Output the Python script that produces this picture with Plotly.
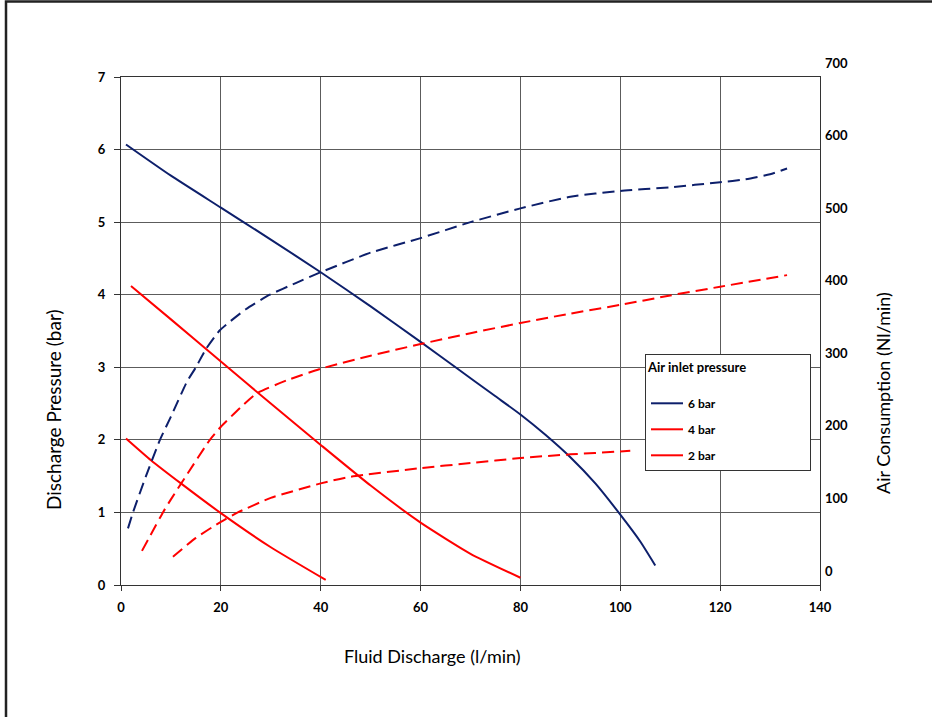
import plotly.graph_objects as go

# ---- data: discharge pressure (bar) vs fluid discharge (l/min) ----
p6_x = [1, 10, 20, 30, 40, 50, 60, 67, 75, 80, 85, 90, 95, 100, 104, 107]
p6_y = [6.07, 5.64, 5.2, 4.76, 4.31, 3.84, 3.35, 3.0, 2.6, 2.35, 2.07, 1.76, 1.4, 0.97, 0.6, 0.27]
p4_x = [2, 10, 20, 30, 40, 50, 60, 70, 80]
p4_y = [4.12, 3.66, 3.08, 2.5, 1.93, 1.37, 0.86, 0.43, 0.1]
p2_x = [1, 6, 12, 20, 30, 41]
p2_y = [2.02, 1.72, 1.4, 0.99, 0.52, 0.07]

# ---- data: air consumption (Nl/min) vs fluid discharge (l/min) ----
a6_x = [1.4, 2.4, 5, 7.8, 10, 13.2, 15, 17, 19.8, 25, 29.8, 35, 40, 50, 60, 70, 80, 90, 100, 110, 120, 125, 130, 133.4]
a6_y = [78, 100, 150, 200, 232, 280, 300, 325, 351, 380, 400, 416, 431, 458, 478, 500, 519, 535, 543, 548, 555, 559, 566, 574]
a4_x = [4.2, 8.4, 10, 13, 17.8, 20, 24, 27.2, 33.2, 40, 50, 60, 70, 80, 90, 100, 110, 120, 133.4]
a4_y = [47, 100, 118, 150, 200, 218, 245, 264, 282, 298, 316, 332, 347, 361, 374, 386, 399, 411, 427]
a2_x = [10.4, 15, 20, 23.4, 30, 40, 45.8, 60, 70, 80, 90, 100, 102]
a2_y = [39, 65, 87, 100, 120, 140, 149, 161, 168, 175, 180, 184, 185]

x_ticks = [0, 20, 40, 60, 80, 100, 120, 140]
y_ticks = [0, 1, 2, 3, 4, 5, 6, 7]
y2_ticks = [0, 100, 200, 300, 400, 500, 600, 700]

NAVY = "#0d1f6b"
RED = "#ff0000"
FONT = "Lato"

fig = go.Figure()

def solid(x, y, color, name, grp):
    fig.add_trace(go.Scatter(x=x, y=y, mode="lines", name=name, legendgroup=grp,
                             line=dict(color=color, width=2, shape="spline", smoothing=0.5)))

def dashed(x, y, color):
    fig.add_trace(go.Scatter(x=x, y=y, mode="lines", yaxis="y2", showlegend=False,
                             line=dict(color=color, width=2, dash="12px,6px",
                                       shape="spline", smoothing=0.5)))

dashed(a6_x, a6_y, NAVY)
dashed(a4_x, a4_y, RED)
dashed(a2_x, a2_y, RED)
solid(p6_x, p6_y, NAVY, "6 bar", "a")
solid(p4_x, p4_y, RED, "4 bar", "b")
solid(p2_x, p2_y, RED, "2 bar", "c")

L, R, T, B = 121, 112, 77, 132
W, H = 932, 717
pw, ph = W - L - R, H - T - B

def px(xp):
    return (xp - L) / pw

def py(yp):
    return (T + ph - yp) / ph

grid = "#5c5c5c"
tick_font = dict(family=FONT, size=13, color="black", weight="bold")
fig.update_layout(
    width=W, height=H,
    margin=dict(l=L, r=R, t=T, b=B),
    paper_bgcolor="white", plot_bgcolor="white",
    font=dict(family=FONT, color="black"),
    xaxis=dict(range=[0, 140], tickvals=x_ticks, showgrid=True, gridcolor=grid, gridwidth=1,
               showline=True, linecolor="#333", linewidth=1, mirror=True,
               ticks="outside", ticklen=5, tickcolor="#333", ticklabelstandoff=5,
               tickfont=tick_font, zeroline=False),
    yaxis=dict(range=[0, 7], tickvals=y_ticks, showgrid=True, gridcolor=grid, gridwidth=1,
               showline=True, linecolor="#333", linewidth=1, mirror=True,
               ticks="outside", ticklen=6, tickcolor="#333", ticklabelstandoff=6,
               tickfont=tick_font, zeroline=False),
    yaxis2=dict(range=[0, 700], tickvals=y2_ticks, overlaying="y", side="right",
                showgrid=False, zeroline=False, showline=False, ticks="",
                ticklabelshift=-14, ticklabelstandoff=4, tickfont=tick_font),
    legend=dict(x=px(645), y=py(354), xanchor="left", yanchor="top",
                bgcolor="white", bordercolor="#333", borderwidth=1,
                title=dict(text="<b>Air inlet pressure</b>" + "&nbsp;" * 19 + "<br>&nbsp;",
                           font=dict(family=FONT, size=13)),
                font=dict(family=FONT, size=12, weight="bold"),
                tracegroupgap=7, itemwidth=32),
    showlegend=True,
)

fig.add_annotation(text="Discharge Pressure (bar)", xref="paper", yref="paper",
                   x=px(53), y=py(410), xanchor="center", yanchor="middle",
                   textangle=-90, showarrow=False,
                   font=dict(family=FONT, size=19, color="black"))
fig.add_annotation(text="Air Consumption (Nl/min)", xref="paper", yref="paper",
                   x=px(883), y=py(393), xanchor="center", yanchor="middle",
                   textangle=-90, showarrow=False,
                   font=dict(family=FONT, size=18, color="black"))
fig.add_annotation(text="Fluid Discharge (l/min)", xref="paper", yref="paper",
                   x=px(432), y=py(656), xanchor="center", yanchor="middle",
                   showarrow=False,
                   font=dict(family=FONT, size=18, color="black"))

# outer frame
fig.add_shape(type="rect", xref="paper", yref="paper",
              x0=px(6), y0=py(730), x1=px(945), y1=py(1.5),
              line=dict(color="#222", width=2.5), fillcolor="rgba(0,0,0,0)", layer="below")

fig.write_html("out.html", config={"displayModeBar": False},
               post_script="document.body.style.margin='0';")
